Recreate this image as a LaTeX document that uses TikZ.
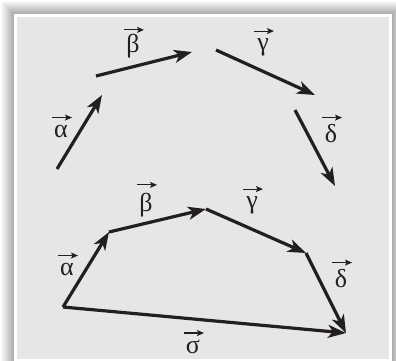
\documentclass[tikz,border=0pt]{standalone}
\usepackage{fontspec}
\setmainfont{Liberation Serif}
\usetikzlibrary{arrows.meta}
\definecolor{ink}{HTML}{231F20}
\definecolor{panel}{HTML}{E6E6E6}
\newcommand\overvec[2][7]{\draw[over] ([shift={(-9,-#1)}]#2.north) -- ([shift={(11,-#1)}]#2.north);}
\begin{document}
\begin{tikzpicture}[x=1pt,y=-1pt,
  vec/.style={ink, line width=3.2pt, -{Stealth[length=18pt,width=13pt,inset=5pt]}},
  over/.style={ink, line width=1.1pt, -{Stealth[length=7pt,width=6pt,inset=1.5pt]}},
  lab/.style={inner sep=0pt, font=\fontsize{26}{26}\selectfont, text=ink}]
\useasboundingbox (0,0) rectangle (396,360);
\fill[white] (0,0) rectangle (396,360);
\foreach \d in {13,12,...,1}{
  \pgfmathsetmacro\c{32*(14-\d)/13}
  \fill[black!\c] (14-\d,14-\d) rectangle (392+\d,362+\d);
}
\fill[white] (14,14) rectangle (392,362);
\fill[panel] (17,17) rectangle (389,359);

% top group
\coordinate (A0) at (57,169); \coordinate (A1) at (102,95);
\coordinate (B0) at (96,76);  \coordinate (B1) at (192,52);
\coordinate (C0) at (216,50); \coordinate (C1) at (315,95);
\coordinate (D0) at (295,110); \coordinate (D1) at (335,186);
\draw[vec] (A0) -- (A1);
\draw[vec] (B0) -- (B1);
\draw[vec] (C0) -- (C1);
\draw[vec] (D0) -- (D1);

\node[lab] (la1) at (61,131) {α};
\node[lab] (lb1) at (133,46) {β};
\node[lab] (lg1) at (263,47) {γ};
\node[lab] (ld1) at (331,134) {δ};
\overvec{la1}
\overvec[4]{lb1}
\overvec{lg1}
\overvec{ld1}

% bottom group
\coordinate (P0) at (63,307);
\coordinate (P1) at (109,232);
\coordinate (P2) at (206,209);
\coordinate (P3) at (306,253);
\coordinate (P4) at (346,333);
\draw[vec] (P0) -- (P1);
\draw[vec] (P1) -- (P2);
\draw[vec] (P2) -- (P3);
\draw[vec] (P3) -- (P4);
\draw[vec] (P0) -- (P4);

\node[lab] (la2) at (67,269) {α};
\node[lab] (lb2) at (146,205) {β};
\node[lab] (lg2) at (252,205) {γ};
\node[lab] (ld2) at (341,279) {δ};
\node[lab] (ls2) at (193,347) {σ};
\overvec{la2}
\overvec[8]{lb2}
\overvec{lg2}
\overvec{ld2}
\overvec{ls2}
\end{tikzpicture}
\end{document}
